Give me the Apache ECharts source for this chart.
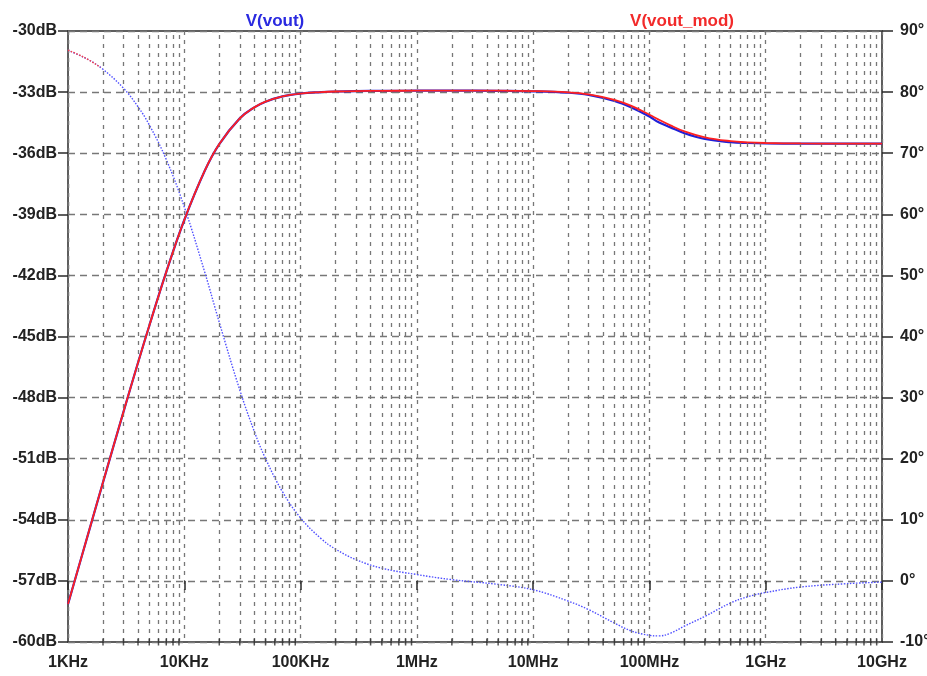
<!DOCTYPE html>
<html>
<head>
    <meta charset="utf-8" />
    <title>V(vout) / V(vout_mod)</title>
    <script src="https://cdn.jsdelivr.net/npm/echarts@6/dist/echarts.min.js"></script>
    <style>
        html, body { margin: 0; padding: 0; background: #fff; }
    </style>
</head>
<body>
<div id="main" style="width:927px;height:676px;"></div>

<script type="text/javascript">
    // frequency points (Hz)
    var freq = [1e3, 1.5e3, 2e3, 3e3, 4e3, 5e3, 7e3, 1e4, 1.5e4, 2e4, 3e4, 4e4, 5e4, 7e4,
                1e5, 1.5e5, 2e5, 3e5, 5e5, 1e6, 2e6, 5e6, 1e7, 2e7, 3e7, 5e7, 7e7,
                1e8, 1.2e8, 1.5e8, 2e8, 3e8, 5e8, 7e8, 1e9, 2e9, 5e9, 1e10];

    // magnitude, dB
    var magVout = [-58.14, -54.64, -52.16, -48.70, -46.29, -44.47, -41.83, -39.28, -36.86, -35.55, -34.29, -33.75, -33.47, -33.21,
                   -33.07, -33.00, -32.97, -32.95, -32.94, -32.93, -32.93, -32.94, -32.96, -33.03, -33.14, -33.44, -33.76,
                   -34.20, -34.48, -34.72, -35.02, -35.30, -35.46, -35.50, -35.52, -35.53, -35.53, -35.53];
    var magVoutMod = [-58.14, -54.64, -52.16, -48.70, -46.29, -44.47, -41.83, -39.28, -36.86, -35.55, -34.29, -33.75, -33.47, -33.21,
                      -33.07, -33.00, -32.97, -32.95, -32.94, -32.93, -32.93, -32.93, -32.95, -33.01, -33.11, -33.38, -33.68,
                      -34.11, -34.35, -34.62, -34.93, -35.22, -35.41, -35.47, -35.50, -35.52, -35.53, -35.53];

    // phase, degrees
    var phaseVout = [86.85, 85.29, 83.73, 80.64, 77.60, 74.64, 68.96, 61.21, 50.51, 42.30, 31.25, 24.47, 20.00, 14.57,
                     10.31, 6.92, 5.20, 3.47, 2.08, 1.04, 0.21, -0.57, -1.46, -3.30, -4.70, -6.90, -8.20,
                     -8.90, -9.00, -8.60, -7.40, -5.80, -3.60, -2.60, -1.90, -1.00, -0.45, -0.20];
    // only the start of the vout_mod phase trace shows
    var freqMod = [1e3, 1.2e3, 1.5e3, 1.9e3];
    var phaseVoutMod = [86.85, 86.23, 85.29, 84.04];

    var freqLabels = ['1KHz', '10KHz', '100KHz', '1MHz', '10MHz', '100MHz', '1GHz', '10GHz'];
    // minor grid multipliers inside each decade
    var minorSteps = [2, 3, 4, 5, 6, 7, 8, 9];

    function pairs(xs, ys) {
        var out = [];
        for (var i = 0; i < xs.length; i++) out.push([xs[i], ys[i]]);
        return out;
    }

    var minorLines = [], minorTicks = [];
    for (var d = 3; d < 10; d++) {
        for (var k = 0; k < minorSteps.length; k++) {
            var f = minorSteps[k] * Math.pow(10, d);
            minorLines.push({ xAxis: f });
            minorTicks.push([f, -60]);
        }
    }

    var labelFont = {
        color: '#222',
        fontFamily: 'Liberation Sans, Arial, sans-serif',
        fontWeight: 'bold',
        fontSize: 16
    };

    var myChart = echarts.init(document.getElementById('main'));
    var option = {
        animation: false,
        title: [
            {
                text: 'V(vout)', left: 270, top: 8, textAlign: 'center',
                textStyle: { color: '#2a2ae0', fontFamily: 'Liberation Sans, Arial', fontWeight: 'bold', fontSize: 17 }
            },
            {
                text: 'V(vout_mod)', left: 677, top: 8, textAlign: 'center',
                textStyle: { color: '#f22a2a', fontFamily: 'Liberation Sans, Arial', fontWeight: 'bold', fontSize: 17 }
            }
        ],
        grid: {
            left: 68, right: 45, top: 31, bottom: 34,
            outerBoundsMode: 'none',
            containLabel: false,
            show: true, borderColor: '#2a2a2a', borderWidth: 1.5
        },
        xAxis: {
            type: 'log',
            logBase: 10,
            min: 1e3,
            max: 1e10,
            axisLine: { show: false },
            axisTick: { show: true, length: 9, lineStyle: { color: '#2a2a2a', width: 1.5 } },
            axisLabel: Object.assign({
                margin: 13,
                formatter: function (v) {
                    return freqLabels[Math.round(Math.log10(v)) - 3] || '';
                }
            }, labelFont),
            splitLine: { show: true, lineStyle: { color: '#777', width: 1.3, type: [4, 5] } }
        },
        yAxis: [
            {
                type: 'value',
                min: -60, max: -30, interval: 3,
                position: 'left',
                axisLine: { show: false },
                axisTick: { show: true, length: 10, lineStyle: { color: '#2a2a2a', width: 1.5 } },
                axisLabel: Object.assign({
                    margin: 11,
                    formatter: function (v) { return v + 'dB'; }
                }, labelFont),
                splitLine: { show: true, lineStyle: { color: '#777', width: 1.3, type: [7, 5] } }
            },
            {
                type: 'value',
                min: -10, max: 90, interval: 10,
                position: 'right',
                axisLine: { show: false },
                axisTick: { show: true, length: 11, lineStyle: { color: '#2a2a2a', width: 1.5 } },
                axisLabel: Object.assign({
                    margin: 18,
                    formatter: function (v) { return v + '°'; }
                }, labelFont),
                splitLine: { show: false }
            }
        ],
        series: [
            {
                name: 'minor grid',
                type: 'line',
                data: [],
                z: 1,
                silent: true,
                markLine: {
                    silent: true,
                    symbol: 'none',
                    label: { show: false },
                    lineStyle: { color: '#777', width: 1.3, type: [4, 5] },
                    data: minorLines
                }
            },
            {
                name: 'minor ticks',
                type: 'scatter',
                data: minorTicks,
                symbol: 'rect',
                symbolSize: [1.5, 7],
                itemStyle: { color: '#2a2a2a' },
                clip: false,
                silent: true,
                z: 6
            },
            {
                name: 'V(vout) phase',
                type: 'line',
                yAxisIndex: 1,
                data: pairs(freq, phaseVout),
                smooth: 0.4,
                showSymbol: false,
                lineStyle: { color: '#5050ff', width: 1.4, type: [1.5, 1.5] },
                z: 3
            },
            {
                name: 'V(vout_mod) phase',
                type: 'line',
                yAxisIndex: 1,
                data: pairs(freqMod, phaseVoutMod),
                smooth: 0.4,
                showSymbol: false,
                lineStyle: { color: '#ff4040', width: 1.4, type: [1.5, 1.5] },
                z: 3
            },
            {
                name: 'V(vout)',
                type: 'line',
                data: pairs(freq, magVout),
                smooth: 0.4,
                showSymbol: false,
                lineStyle: { color: '#2020d8', width: 2.2 },
                z: 4
            },
            {
                name: 'V(vout_mod)',
                type: 'line',
                data: pairs(freq, magVoutMod),
                smooth: 0.4,
                showSymbol: false,
                lineStyle: { color: '#ff2020', width: 1.8 },
                z: 5
            }
        ]
    };

    myChart.setOption(option);
</script>
</body>
</html>
